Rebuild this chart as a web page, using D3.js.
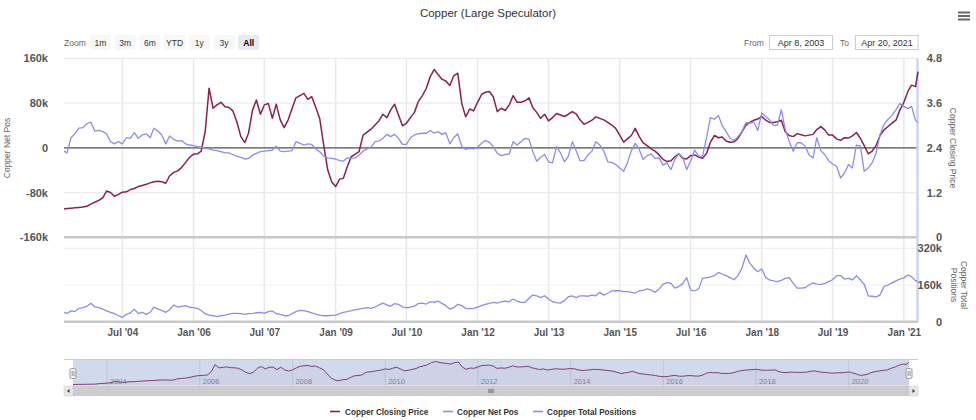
<!DOCTYPE html>
<html><head><meta charset="utf-8">
<script src="https://cdn.jsdelivr.net/npm/d3@7"></script>
<style>
body{margin:0;background:#fff;}
svg{display:block;font-family:"Liberation Sans",Arial,sans-serif;}
</style>
</head><body>
<svg id="chart" width="976" height="420"></svg>
<script>
// ---------------- DATA ----------------
const chartTitle = "Copper (Large Speculator)";
const seriesNames = ["Copper Closing Price", "Copper Net Pos", "Copper Total Positions"];
const firstDate = "2003-04-08";
const lastDate = "2021-04-20";
// monthly readings: first value at firstDate, then 1st of each month May 2003 .. Apr 2021, last value at lastDate
const closingPrice = [
  0.76,0.77,0.78,0.79,0.80,0.81,0.83,0.89,0.94,
  0.99,1.06,1.24,1.20,1.10,1.15,1.21,1.22,1.28,1.31,1.36,1.39,
  1.42,1.46,1.49,1.50,1.49,1.45,1.65,1.74,1.78,1.87,2.01,2.14,
  2.23,2.24,2.31,2.83,4.00,3.46,3.55,3.62,3.50,3.48,3.39,3.10,
  2.70,2.54,2.79,3.41,3.68,3.30,3.55,3.59,3.19,3.57,3.15,2.94,
  3.15,3.46,3.74,3.80,3.86,3.70,3.77,3.48,3.17,2.48,1.81,1.49,
  1.36,1.56,1.58,1.89,2.16,2.23,2.30,2.74,2.82,2.90,3.01,3.12,
  3.30,3.21,3.41,3.57,3.28,2.99,3.06,3.21,3.35,3.64,3.80,3.99,
  4.31,4.50,4.37,4.24,4.19,4.07,4.33,4.40,3.59,3.23,3.44,3.39,
  3.62,3.83,3.89,3.91,3.77,3.37,3.46,3.40,3.55,3.80,3.62,3.62,
  3.66,3.74,3.48,3.35,3.19,3.30,3.12,3.21,3.32,3.28,3.24,3.30,
  3.37,3.30,3.15,3.03,3.08,3.14,3.23,3.19,3.15,3.08,3.01,2.92,
  2.74,2.55,2.64,2.73,2.92,2.70,2.53,2.46,2.37,2.31,2.21,2.09,
  2.03,2.05,2.16,2.24,2.12,2.10,2.19,2.21,2.15,2.12,2.25,2.55,
  2.73,2.67,2.69,2.58,2.55,2.56,2.65,2.83,3.01,3.08,3.14,3.17,
  3.24,3.14,3.08,3.08,3.10,3.14,2.83,2.73,2.70,2.78,2.75,2.72,
  2.74,2.76,2.89,2.97,2.88,2.74,2.74,2.64,2.60,2.67,2.66,2.72,
  2.81,2.65,2.46,2.24,2.31,2.46,2.73,2.88,2.97,3.06,3.14,3.41,
  3.62,3.91,4.08,4.04,4.44
];
const netPos = [ // thousands of contracts
  -6,-9,18,25,35,36,43,46,30,
  31,29,25,11,7,11,7,18,17,27,17,23,
  25,18,35,30,23,7,21,15,12,13,7,5,
  4,2,1,-1,-2,-4,-5,-7,-9,-9,-12,-15,
  -17,-20,-19,-13,-10,-7,-6,-5,-4,3,-6,-7,
  -6,-5,11,8,5,7,6,-2,-7,-15,-18,-19,
  -20,-23,-24,-18,-19,-18,-13,-6,-2,1,11,12,
  17,24,20,24,17,6,6,18,23,25,26,26,
  31,26,29,24,27,7,18,25,3,-3,-1,-2,
  1,8,13,10,2,-10,-14,-12,-11,11,5,11,
  17,15,-6,-24,-17,-12,-25,-27,2,-9,-25,-15,
  11,-6,-23,-23,-13,-6,11,5,-6,-25,-26,-30,
  -36,-42,-27,-5,8,-3,-21,-14,-11,-19,-18,-31,
  -27,-39,-21,-11,-17,-39,-24,-4,-15,-15,18,54,
  51,58,40,29,17,13,20,29,45,44,46,31,
  62,56,50,40,40,68,33,11,-6,9,9,3,
  -13,-18,18,-5,-12,-23,-29,-33,-54,-45,-30,-36,
  5,3,-42,-36,-27,-9,23,42,51,58,68,79,
  74,70,74,49,45
];
const totalPositions = [ // thousands of contracts
  41,36,47,44,58,61,67,80,65,
  61,55,47,41,35,26,19,32,38,55,35,41,
  32,41,64,55,49,41,52,73,64,67,70,63,
  61,58,49,35,29,26,22,26,29,33,36,36,
  35,32,35,36,39,41,36,44,47,35,32,26,
  26,35,44,49,48,44,38,33,29,26,26,28,
  29,35,41,44,48,52,55,58,61,58,64,73,
  81,73,67,79,76,64,61,63,68,79,81,77,
  87,84,90,80,70,55,61,76,70,58,57,58,
  64,70,76,80,84,81,87,90,87,99,90,84,
  84,102,116,113,105,113,99,87,83,81,92,109,
  112,105,113,113,111,116,113,128,116,124,134,135,
  135,131,131,128,125,135,137,143,138,128,143,163,
  170,167,146,153,166,192,138,134,143,189,192,195,
  201,215,208,201,192,183,201,233,291,255,233,218,
  230,192,182,178,175,180,189,192,167,146,146,148,
  160,169,164,163,166,175,183,201,201,186,189,182,
  201,182,163,113,111,108,116,154,160,169,178,186,
  191,204,196,178,178
];
const xTickMonths = ["2004-07","2006-01","2007-07","2009-01","2010-07","2012-01","2013-07","2015-01","2016-07","2018-01","2019-07","2021-01"];
const netTicks = [-160,-80,0,80,160];
const priceTicks = [0,1.2,2.4,3.6,4.8];
const totalTicks = [0,160,320];
const navYears = [2004,2006,2008,2010,2012,2014,2016,2018,2020];
const zoomButtons = ["1m","3m","6m","YTD","1y","3y","All"];
const fromLabel = "Apr 8, 2003", toLabel = "Apr 20, 2021";

// ---------------- BUILD ----------------
const colPrice = "#8b1f52", colNet = "#8a8cf2", colTotal = "#8a8cf2";
const parse = d3.utcParse("%Y-%m-%d");
const d0 = parse(firstDate), d1 = parse(lastDate);
const dates = [d0, ...d3.utcMonth.range(Date.UTC(2003,4,1), Date.UTC(2021,4,1)), d1];
const rows = dates.map((d,i)=>({date:d, price:closingPrice[i], net:netPos[i], total:totalPositions[i]}));

const svg = d3.select("#chart");
const L = 64, R = 918, topY = 58.3, midY = 237.3, lowTop = 248.3, lowBot = 321.7;

const x = d3.scaleUtc().domain([d0,d1]).range([L,R]);
const yNet = d3.scaleLinear().domain([-160,160]).range([midY, topY]);
const yPrice = d3.scaleLinear().domain([0,4.8]).range([midY, topY]);
const yTotal = d3.scaleLinear().domain([0,320]).range([lowBot, lowTop]);

// title
svg.append("text").attr("x",488).attr("y",17).attr("text-anchor","middle")
  .attr("font-size",11.5).attr("fill","#333").text(chartTitle);
// menu icon
[12.5,16,19.5].forEach(yy=>svg.append("line").attr("x1",958).attr("x2",970).attr("y1",yy).attr("y2",yy)
  .attr("stroke","#666").attr("stroke-width",2));

// range selector
svg.append("text").attr("x",64).attr("y",45.5).attr("font-size",8.5).attr("fill","#666").text("Zoom");
zoomButtons.forEach((b,i)=>{
  const bx = 90 + i*24.7, sel = b==="All";
  svg.append("rect").attr("x",bx).attr("y",35).attr("width",21).attr("height",15).attr("rx",2)
    .attr("fill", sel? "#e6ebf5":"#f7f7f7");
  svg.append("text").attr("x",bx+10.5).attr("y",45.5).attr("text-anchor","middle")
    .attr("font-size",8.5).attr("font-weight", sel?"bold":"normal").attr("fill", sel?"#000":"#333").text(b);
});
svg.append("text").attr("x",744).attr("y",45.5).attr("font-size",8.5).attr("fill","#666").text("From");
svg.append("rect").attr("x",769.5).attr("y",35.5).attr("width",63).attr("height",14).attr("fill","#fff").attr("stroke","#ccc");
svg.append("text").attr("x",801).attr("y",45.5).attr("text-anchor","middle").attr("font-size",9).attr("fill","#333").text(fromLabel);
svg.append("text").attr("x",840).attr("y",45.5).attr("font-size",8.5).attr("fill","#666").text("To");
svg.append("rect").attr("x",855.5).attr("y",35.5).attr("width",62.5).attr("height",14).attr("fill","#fff").attr("stroke","#ccc");
svg.append("text").attr("x",887).attr("y",45.5).attr("text-anchor","middle").attr("font-size",9).attr("fill","#333").text(toLabel);

// grid
const grid = svg.append("g");
const xTickDates = xTickMonths.map(s=>parse(s+"-01"));
xTickDates.forEach(d=>grid.append("line").attr("x1",x(d)).attr("x2",x(d)).attr("y1",topY).attr("y2",lowBot)
  .attr("stroke","#e8e8e8").attr("stroke-width",1.5));
netTicks.filter(t=>t!==-160).forEach(t=>grid.append("line").attr("x1",L).attr("x2",R)
  .attr("y1",yNet(t)).attr("y2",yNet(t)).attr("stroke","#ebebeb").attr("stroke-width",1.2));
totalTicks.filter(t=>t!==0).forEach(t=>grid.append("line").attr("x1",L).attr("x2",R)
  .attr("y1",yTotal(t)).attr("y2",yTotal(t)).attr("stroke","#efefef").attr("stroke-width",1.2));
// pane base lines
grid.append("line").attr("x1",L).attr("x2",R).attr("y1",midY).attr("y2",midY).attr("stroke","#c8c8c8").attr("stroke-width",2.5);
grid.append("line").attr("x1",L).attr("x2",R).attr("y1",lowBot).attr("y2",lowBot).attr("stroke","#c8c8c8").attr("stroke-width",2.5);
// zero plot line
grid.append("line").attr("x1",L).attr("x2",R).attr("y1",yNet(0)).attr("y2",yNet(0)).attr("stroke","#555").attr("stroke-width",1.2);
// right edge strip
grid.append("line").attr("x1",R-0.5).attr("x2",R-0.5).attr("y1",topY).attr("y2",lowBot).attr("stroke","#ccd6eb").attr("stroke-width",2.5);

// series
const lPrice = d3.line().x(d=>x(d.date)).y(d=>yPrice(d.price));
const lNet = d3.line().x(d=>x(d.date)).y(d=>yNet(d.net));
const lTotal = d3.line().x(d=>x(d.date)).y(d=>yTotal(d.total));
svg.append("path").datum(rows).attr("d",lPrice).attr("fill","none").attr("stroke",colPrice).attr("stroke-width",1.5).attr("stroke-linejoin","round");
svg.append("path").datum(rows).attr("d",lNet).attr("fill","none").attr("stroke",colNet).attr("stroke-width",1.3).attr("stroke-linejoin","round");
svg.append("path").datum(rows).attr("d",lTotal).attr("fill","none").attr("stroke",colTotal).attr("stroke-width",1.3).attr("stroke-linejoin","round");

// axes
const kfmt = d => d===0 ? "0" : d+"k";
function styleAxis(g, size){
  g.select(".domain").remove();
  g.selectAll(".tick line").remove();
  g.selectAll("text").attr("font-size",size).attr("font-weight","bold").attr("fill","#555")
    .attr("font-family","Liberation Sans, Arial, sans-serif");
}
const axL = svg.append("g").attr("transform",`translate(48,0)`)
  .call(d3.axisLeft(yNet).tickValues(netTicks).tickFormat(kfmt).tickSize(0).tickPadding(0));
styleAxis(axL, 11);
const axP = svg.append("g").attr("transform",`translate(942,0)`)
  .call(d3.axisRight(yPrice).tickValues(priceTicks).tickFormat(d3.format(".1f")).tickSize(0).tickPadding(0));
styleAxis(axP, 11);
axP.selectAll("text").attr("text-anchor","end").attr("x",0).text(d=> d===0?"0":d3.format(".1f")(d));
const axT = svg.append("g").attr("transform",`translate(942,0)`)
  .call(d3.axisRight(yTotal).tickValues(totalTicks).tickFormat(kfmt).tickSize(0).tickPadding(0));
styleAxis(axT, 11);
axT.selectAll("text").attr("text-anchor","end").attr("x",0);
const axX = svg.append("g").attr("transform",`translate(0,${lowBot})`)
  .call(d3.axisBottom(x).tickValues(xTickDates).tickFormat(d3.utcFormat("%b '%y")).tickSize(0).tickPadding(7));
styleAxis(axX, 10);

// axis titles
svg.append("text").attr("transform","translate(10,148) rotate(-90)").attr("text-anchor","middle")
  .attr("font-size",8.5).attr("fill","#666").text("Copper Net Pos");
svg.append("text").attr("transform","translate(950,148) rotate(90)").attr("text-anchor","middle")
  .attr("font-size",8.5).attr("fill","#666").text("Copper Closing Price");
svg.append("text").attr("transform","translate(961,285) rotate(90)").attr("text-anchor","middle")
  .attr("font-size",8.5).attr("fill","#666").text("Copper Total");
svg.append("text").attr("transform","translate(951,285) rotate(90)").attr("text-anchor","middle")
  .attr("font-size",8.5).attr("fill","#666").text("Positions");

// navigator
const nTop = 359.5, nBot = 385.7, nL = 73, nR = 909;
const xn = d3.scaleUtc().domain([d0,d1]).range([nL,nR]);
const yn = d3.scaleLinear().domain(d3.extent(closingPrice)).range([384.5,361.5]);
const nav = svg.append("g");
navYears.forEach(yr=>{
  const xx = xn(Date.UTC(yr,0,1));
  nav.append("line").attr("x1",xx).attr("x2",xx).attr("y1",nTop).attr("y2",nBot).attr("stroke","#e6e6e6").attr("stroke-width",1);
  nav.append("text").attr("x",xx+3).attr("y",384).attr("font-size",7.5).attr("fill","#888").text(yr);
});
nav.append("path").datum(rows).attr("d",d3.area().x(d=>xn(d.date)).y0(nBot).y1(d=>yn(d.price)))
  .attr("fill",colPrice).attr("fill-opacity",0.05);
nav.append("path").datum(rows).attr("d",d3.line().x(d=>xn(d.date)).y(d=>yn(d.price)))
  .attr("fill","none").attr("stroke",colPrice).attr("stroke-width",1);
nav.append("rect").attr("x",nL).attr("y",nTop).attr("width",nR-nL).attr("height",nBot-nTop).attr("fill","rgba(102,133,194,0.3)");
nav.append("line").attr("x1",L).attr("x2",R).attr("y1",nTop).attr("y2",nTop).attr("stroke","#ccc").attr("stroke-width",1);
[nL,nR].forEach(hx=>{
  nav.append("rect").attr("x",hx-3).attr("y",368.5).attr("width",6).attr("height",10).attr("rx",1.5)
    .attr("fill","#f2f2f2").attr("stroke","#999").attr("stroke-width",1);
  nav.append("line").attr("x1",hx-0.8).attr("x2",hx-0.8).attr("y1",371).attr("y2",376).attr("stroke","#999");
  nav.append("line").attr("x1",hx+1).attr("x2",hx+1).attr("y1",371).attr("y2",376).attr("stroke","#999");
});
// scrollbar
const sT = 386, sH = 10;
nav.append("rect").attr("x",L).attr("y",sT).attr("width",R-L).attr("height",sH).attr("fill","#f2f2f2");
nav.append("rect").attr("x",nL).attr("y",sT).attr("width",nR-nL).attr("height",sH).attr("fill","#cccccc");
[[L, "l"],[nR, "r"]].forEach(([bx,dir])=>{
  nav.append("rect").attr("x",bx).attr("y",sT).attr("width",9).attr("height",sH).attr("fill","#e6e6e6").attr("stroke","#ccc").attr("stroke-width",0.5);
  const cx = bx+4.5, cy = sT+5;
  const pts = dir==="l" ? `${cx-1.5},${cy} ${cx+1},${cy-2} ${cx+1},${cy+2}` : `${cx+1.5},${cy} ${cx-1},${cy-2} ${cx-1},${cy+2}`;
  nav.append("polygon").attr("points",pts).attr("fill","#333");
});
const midX = (nL+nR)/2;
nav.append("rect").attr("x",midX-3).attr("y",sT+3).attr("width",6).attr("height",4).attr("fill","#999");

// legend
const legendItems = [
  {name:seriesNames[0], color:colPrice, sx:330, tx:345},
  {name:seriesNames[1], color:colNet, sx:443, tx:457},
  {name:seriesNames[2], color:colTotal, sx:533, tx:547}
];
legendItems.forEach(it=>{
  svg.append("line").attr("x1",it.sx).attr("x2",it.sx+10).attr("y1",411.5).attr("y2",411.5).attr("stroke",it.color).attr("stroke-width",1.6);
  svg.append("text").attr("x",it.tx).attr("y",414.5).attr("font-size",8.2).attr("font-weight","bold").attr("fill","#333").text(it.name);
});
</script>
</body></html>
